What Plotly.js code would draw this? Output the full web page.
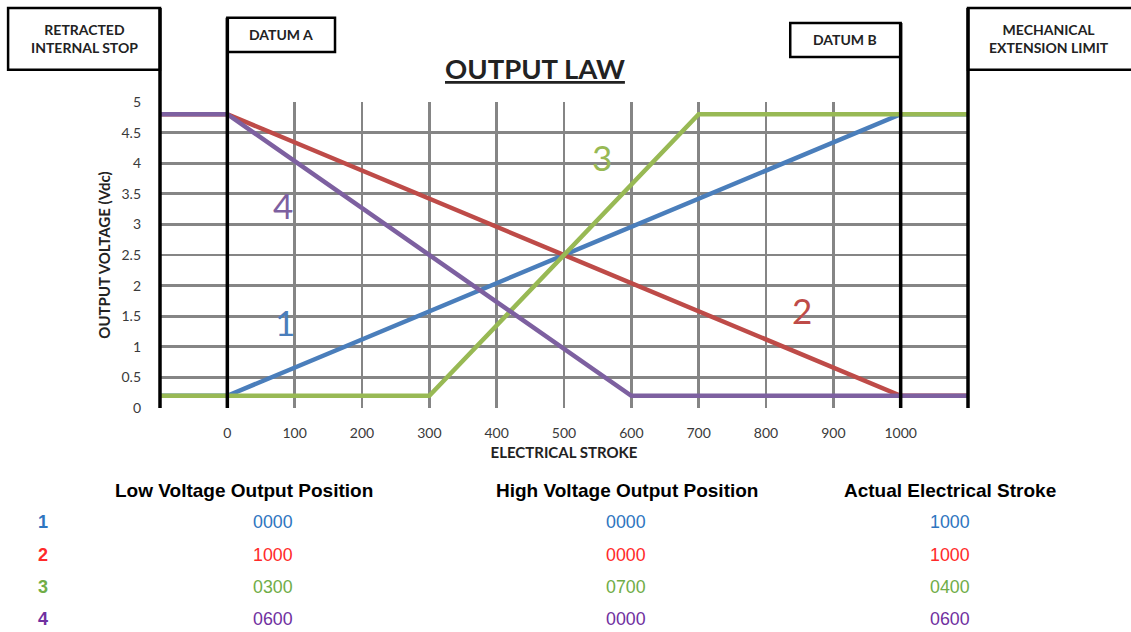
<!DOCTYPE html>
<html>
<head>
<meta charset="utf-8">
<script src="https://cdn.plot.ly/plotly-3.0.1.min.js"></script>
<style>html,body{margin:0;padding:0;background:#fff;}#chart{width:1131px;height:632px;}</style>
</head>
<body>
<div id="chart"></div>
<script>
// ---- data ----
var seriesNames = ['1', '2', '3', '4'];
var x1 = [-100, 0, 1000, 1100];
var y1 = [0.2, 0.2, 4.8, 4.8];
var x2 = [-100, 0, 1000, 1100];
var y2 = [4.8, 4.8, 0.2, 0.2];
var x3 = [-100, 300, 700, 1100];
var y3 = [0.2, 0.2, 4.8, 4.8];
var x4 = [-100, 0, 600, 1100];
var y4 = [4.8, 4.8, 0.2, 0.2];
var xTicks = [0, 100, 200, 300, 400, 500, 600, 700, 800, 900, 1000];
var yTicks = [0, 0.5, 1, 1.5, 2, 2.5, 3, 3.5, 4, 4.5, 5];
var yTickText = ['0', '0.5', '1', '1.5', '2', '2.5', '3', '3.5', '4', '4.5', '5'];
var tableHeaders = ['Low Voltage Output Position', 'High Voltage Output Position', 'Actual Electrical Stroke'];
var lowPos = ['0000', '1000', '0300', '0600'];
var highPos = ['0000', '0000', '0700', '0000'];
var stroke = ['1000', '1000', '0400', '0600'];
// label positions for the big numbers (data coords)
var labelX = [85, 854, 557, 82];
var labelY = [1.4, 1.6, 4.1, 3.32];

var lineColors = ['#4a7ebb', '#be4b48', '#98b954', '#7d60a0'];
var tableColors = ['#2e75c0', '#ff2a2a', '#70ad47', '#7030a0'];

var xs = [x1, x2, x3, x4], ys = [y1, y2, y3, y4];
var traces = [];
for (var i = 0; i < 4; i++) {
  traces.push({x: xs[i], y: ys[i], type: 'scatter', mode: 'lines', name: seriesNames[i],
    line: {color: lineColors[i], width: 4.5}, hoverinfo: 'x+y'});
}

var FONT = 'Lato, "Open Sans", sans-serif';
var AR = '"Liberation Sans", Arial, sans-serif';
var xmin = -100, xmax = 1100;
function px(v) { return (v - xmin) / (xmax - xmin); }

var shapes = [];
function box(x0, x1_, y0, y1_) {
  shapes.push({type: 'rect', xref: 'paper', yref: 'paper', x0: x0, x1: x1_, y0: y0, y1: y1_,
    line: {color: '#000', width: 2.5}, fillcolor: '#fff', layer: 'above'});
}
function vline(xp, ytop) {
  shapes.push({type: 'line', xref: 'paper', yref: 'paper', x0: xp, x1: xp, y0: 0, y1: ytop,
    line: {color: '#000', width: 3.5}, layer: 'above'});
}
box(-0.188, 0, 1.105, 1.307);
box(px(0), 0.2166, 1.163, 1.275);
box(0.78, px(1000), 1.147, 1.258);
box(1, 1.25, 1.105, 1.307);
vline(0, 1.307);
vline(px(0), 1.275);
vline(px(1000), 1.258);
vline(1, 1.307);

var ann = [];
function note(text, x, y, size, color, family, extra) {
  var a = {text: text, x: x, y: y, xref: 'paper', yref: 'paper', showarrow: false,
    font: {size: size, color: color, family: family}, xanchor: 'center', yanchor: 'middle'};
  if (extra) for (var k in extra) a[k] = extra[k];
  ann.push(a);
}
// box labels
note('<b>RETRACTED<br>INTERNAL STOP</b>', -0.094, 1.206, 14, '#222', FONT);
note('<b>DATUM A</b>', (px(0) + 0.2166) / 2, 1.219, 14, '#222', FONT);
note('<b>DATUM B</b>', (0.78 + px(1000)) / 2, 1.203, 14, '#222', FONT);
note('<b>MECHANICAL<br>EXTENSION LIMIT</b>', 1.1, 1.206, 14, '#222', FONT);
// title
note('<b><u>OUTPUT LAW</u></b>', 0.464, 1.111, 27.5, '#222', FONT);
// big series numbers
for (var i = 0; i < 4; i++) {
  ann.push({text: seriesNames[i], x: labelX[i], y: labelY[i], xref: 'x', yref: 'y', showarrow: false,
    font: {size: 35, color: lineColors[i], family: FONT}, xanchor: 'center', yanchor: 'middle'});
}
// table
var colX = [0.104, 0.578, 0.978];
var valX = [0.140, 0.577, 0.978];
var rowY = [-0.373, -0.480, -0.585, -0.690];
for (var c = 0; c < 3; c++) note('<b>' + tableHeaders[c] + '</b>', colX[c], -0.271, 19, '#000', AR);
var cols = [lowPos, highPos, stroke];
for (var r = 0; r < 4; r++) {
  note('<b>' + seriesNames[r] + '</b>', -0.145, rowY[r], 18, tableColors[r], AR);
  for (var c = 0; c < 3; c++) note(cols[c][r], valX[c], rowY[r], 17.8, tableColors[r], AR);
}

var layout = {
  width: 1131, height: 632,
  margin: {l: 160, r: 163, t: 102, b: 224},
  paper_bgcolor: '#fff', plot_bgcolor: '#fff',
  showlegend: false,
  xaxis: {range: [xmin, xmax], tickvals: xTicks, ticks: '', showgrid: true, gridcolor: '#858585', gridwidth: 2.8,
    zeroline: false, showline: false, ticklabelstandoff: 15,
    tickfont: {size: 14, color: '#3a3a3a', family: FONT},
    title: {text: '<b>ELECTRICAL STROKE</b>', font: {size: 15, color: '#222', family: FONT}, standoff: 7}},
  yaxis: {range: [0, 5], tickvals: yTicks, ticktext: yTickText, ticks: '', showgrid: true, gridcolor: '#858585', gridwidth: 2.8,
    zeroline: false, showline: false, ticklabelstandoff: 18,
    tickfont: {size: 14, color: '#3a3a3a', family: FONT},
    title: {text: '<b>OUTPUT VOLTAGE (Vdc)</b>', font: {size: 15, color: '#222', family: FONT}, standoff: 7}},
  shapes: shapes,
  annotations: ann
};
Plotly.newPlot('chart', traces, layout, {displayModeBar: false, staticPlot: true});
</script>
</body>
</html>
